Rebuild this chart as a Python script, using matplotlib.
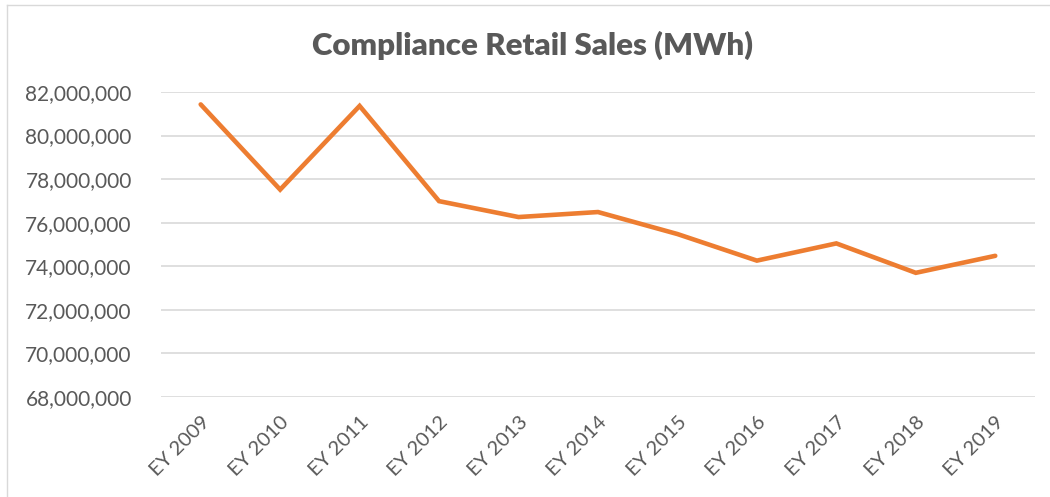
#
# Compliance Retail Sales (MWh) - Excel style line chart
#
import matplotlib
matplotlib.use("Agg")
import matplotlib.pyplot as plt
from matplotlib.lines import Line2D
from matplotlib.ticker import FuncFormatter
#
# --------------------------------------------------------------------- #
# Data
years = ["EY 2009", "EY 2010", "EY 2011", "EY 2012", "EY 2013", "EY 2014",
         "EY 2015", "EY 2016", "EY 2017", "EY 2018", "EY 2019"]
sales = [81430000, 77520000, 81360000, 76990000, 76260000, 76490000,
         75480000, 74260000, 75050000, 73700000, 74480000]
yTicks = [68000000, 70000000, 72000000, 74000000, 76000000, 78000000,
          80000000, 82000000]
#
# --------------------------------------------------------------------- #
textGray = "#595959"
plt.rcParams["font.family"] = ["Lato", "DejaVu Sans"]
#
fig = plt.figure(figsize=(10.5, 4.97), dpi=100)
ax = fig.add_axes([0.1533, 0.2012, 0.8324, 0.6137])
#
xs = list(range(len(years)))
ax.plot(xs, sales, color="#ED7D31", linewidth=3.3, solid_joinstyle="miter",
        solid_capstyle="round", zorder=3)
#
ax.set_xlim(-0.5, len(years) - 0.5)
ax.set_ylim(yTicks[0], yTicks[-1])
ax.set_yticks(yTicks)
ax.yaxis.set_major_formatter(FuncFormatter(lambda v, p: f"{v:,.0f}"))
ax.grid(axis="y", color="#D9D9D9", linewidth=1.2)
ax.set_axisbelow(True)
for s in ax.spines.values():
    s.set_visible(False)
#
ax.set_xticks(xs)
ax.set_xticklabels(years, rotation=45, ha="right", va="top",
                   rotation_mode="anchor", fontsize=14.5, color=textGray)
ax.tick_params(axis="x", length=0, pad=12)
ax.tick_params(axis="y", length=0, pad=21, labelsize=15, labelcolor=textGray)
#
fig.text(0.507, 0.908, "Compliance Retail Sales (MWh)", ha="center",
         va="center", fontsize=22.5, fontweight="heavy", color=textGray)
#
# Chart area border (left and top edges visible)
fig.add_artist(Line2D([7 / 1050, 7 / 1050], [0, 1 - 5 / 497],
                      transform=fig.transFigure, color="#D9D9D9", lw=1))
fig.add_artist(Line2D([7 / 1050, 1], [1 - 5 / 497, 1 - 5 / 497],
                      transform=fig.transFigure, color="#D9D9D9", lw=1))
#
fig.savefig("out.png", dpi=100, facecolor="white")
